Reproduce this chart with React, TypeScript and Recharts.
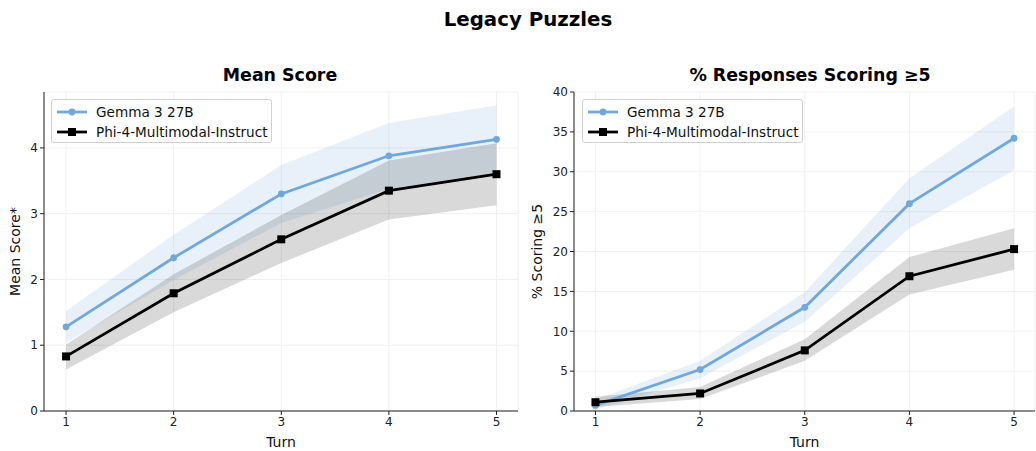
import React from "react";
import { ComposedChart, Line, Area, XAxis, YAxis, CartesianGrid } from "recharts";

const turns = [1, 2, 3, 4, 5];

// Mean score panel
const gemmaMean = [1.28, 2.33, 3.30, 3.88, 4.13];
const gemmaMeanLow = [1.04, 1.99, 2.86, 3.38, 3.62];
const gemmaMeanHigh = [1.52, 2.68, 3.74, 4.38, 4.65];
const phiMean = [0.83, 1.79, 2.61, 3.35, 3.60];
const phiMeanLow = [0.63, 1.50, 2.25, 2.91, 3.13];
const phiMeanHigh = [1.01, 2.08, 2.98, 3.81, 4.07];

// % scoring >= 5 panel
const gemmaPct = [0.7, 5.2, 13.0, 26.0, 34.2];
const gemmaPctLow = [0.2, 4.1, 11.2, 22.9, 30.2];
const gemmaPctHigh = [1.4, 6.3, 14.9, 29.2, 38.2];
const phiPct = [1.1, 2.2, 7.6, 16.9, 20.3];
const phiPctLow = [0.5, 1.5, 6.3, 14.6, 17.7];
const phiPctHigh = [1.8, 3.0, 9.0, 19.3, 22.9];

const meanTicks = [0, 1, 2, 3, 4];
const pctTicks = [0, 5, 10, 15, 20, 25, 30, 35, 40];

const seriesNames = ["Gemma 3 27B", "Phi-4-Multimodal-Instruct"];

const BLUE = "#6fa8dc";
const FONT = "DejaVu Sans, sans-serif";

const meanData = turns.map((t, i) => ({
  turn: t,
  g: gemmaMean[i],
  gBand: [gemmaMeanLow[i], gemmaMeanHigh[i]],
  p: phiMean[i],
  pBand: [phiMeanLow[i], phiMeanHigh[i]],
}));

const pctData = turns.map((t, i) => ({
  turn: t,
  g: gemmaPct[i],
  gBand: [gemmaPctLow[i], gemmaPctHigh[i]],
  p: phiPct[i],
  pBand: [phiPctLow[i], phiPctHigh[i]],
}));

const SquareDot = (props: any) => {
  const { cx, cy, index } = props;
  if (cx == null || cy == null) return <g key={index} />;
  return <rect key={index} x={cx - 4} y={cy - 4} width={8} height={8} fill="#000" />;
};

const LegendBox = ({ left }: { left: number }) => (
  <div
    style={{
      position: "absolute",
      left,
      top: 99,
      width: 221,
      height: 44,
      boxSizing: "border-box",
      background: "rgba(255,255,255,0.85)",
      border: "1px solid #d0d0d0",
      borderRadius: 3,
      padding: "2px 0 0 5px",
      fontFamily: FONT,
      fontSize: 13.6,
      color: "#111",
      lineHeight: "20px",
      whiteSpace: "nowrap",
    }}
  >
    <div style={{ display: "flex", alignItems: "center" }}>
      <svg width={30} height={10} style={{ marginRight: 9 }}>
        <line x1={0} y1={5} x2={30} y2={5} stroke={BLUE} strokeWidth={2.8} />
        <circle cx={15} cy={5} r={3.4} fill={BLUE} />
      </svg>
      {seriesNames[0]}
    </div>
    <div style={{ display: "flex", alignItems: "center" }}>
      <svg width={30} height={10} style={{ marginRight: 9 }}>
        <line x1={0} y1={5} x2={30} y2={5} stroke="#000" strokeWidth={2.8} />
        <rect x={11} y={1} width={8} height={8} fill="#000" />
      </svg>
      {seriesNames[1]}
    </div>
  </div>
);

const Panel = ({ data, yDomain, yTicks, yLabel, yAxisWidth, width, yLabelOffset }: any) => (
  <ComposedChart
    width={width}
    height={451}
    data={data}
    margin={{ top: 92, right: 2, bottom: 0, left: 0 }}
    style={{ fontFamily: FONT }}
  >
    <CartesianGrid stroke="#f0f0f0" strokeWidth={1} />
    <XAxis
      dataKey="turn"
      type="number"
      domain={[0.795, 5.2]}
      ticks={turns}
      height={40}
      tickSize={4}
      tick={{ fill: "#222", fontSize: 12 }}
      tickLine={{ stroke: "#222" }}
      axisLine={{ stroke: "#222" }}
      label={{ value: "Turn", position: "insideBottom", offset: 4, fill: "#111", fontSize: 14 }}
    />
    <YAxis
      type="number"
      domain={yDomain}
      ticks={yTicks}
      width={yAxisWidth}
      tickSize={4}
      allowDataOverflow
      tick={{ fill: "#222", fontSize: 12 }}
      tickLine={{ stroke: "#222" }}
      axisLine={{ stroke: "#222" }}
      label={{
        value: yLabel,
        angle: -90,
        position: "insideLeft",
        offset: yLabelOffset,
        style: { textAnchor: "middle" },
        fill: "#111",
        fontSize: 14,
      }}
    />
    <Area
      dataKey="gBand"
      type="linear"
      stroke="none"
      fill={BLUE}
      fillOpacity={0.16}
      isAnimationActive={false}
      activeDot={false}
    />
    <Line
      dataKey="g"
      type="linear"
      stroke={BLUE}
      strokeWidth={2.8}
      dot={{ r: 3.4, fill: BLUE, stroke: BLUE, strokeWidth: 0 }}
      isAnimationActive={false}
    />
    <Area
      dataKey="pBand"
      type="linear"
      stroke="none"
      fill="#000"
      fillOpacity={0.15}
      isAnimationActive={false}
      activeDot={false}
    />
    <Line
      dataKey="p"
      type="linear"
      stroke="#000"
      strokeWidth={2.8}
      dot={SquareDot}
      isAnimationActive={false}
    />
  </ComposedChart>
);

export default function App() {
  return (
    <div
      style={{
        position: "absolute",
        left: 0,
        top: 0,
        width: 1036,
        height: 451,
        background: "#fff",
        fontFamily: FONT,
      }}
    >
      <div style={{ position: "absolute", left: 0, top: 0 }}>
        <Panel
          data={meanData}
          yDomain={[0, 4.85]}
          yTicks={meanTicks}
          yLabel="Mean Score*"
          yAxisWidth={44}
          width={520}
          yLabelOffset={15}
        />
      </div>
      <div style={{ position: "absolute", left: 520, top: 0 }}>
        <Panel
          data={pctData}
          yDomain={[0, 40]}
          yTicks={pctTicks}
          yLabel="% Scoring ≥5"
          yAxisWidth={54}
          width={517}
          yLabelOffset={17}
        />
      </div>
      <LegendBox left={51} />
      <LegendBox left={582} />
      <div
        style={{
          position: "absolute",
          top: 7,
          left: 0,
          width: 1056,
          textAlign: "center",
          fontWeight: "bold",
          fontSize: 19.8,
          lineHeight: "26px",
          color: "#000",
        }}
      >
        Legacy Puzzles
      </div>
      <div
        style={{
          position: "absolute",
          top: 64,
          left: 44,
          width: 472,
          textAlign: "center",
          fontWeight: "bold",
          fontSize: 17.4,
          lineHeight: "22px",
          color: "#000",
        }}
      >
        Mean Score
      </div>
      <div
        style={{
          position: "absolute",
          top: 64,
          left: 574,
          width: 472,
          textAlign: "center",
          fontWeight: "bold",
          fontSize: 17.4,
          lineHeight: "22px",
          color: "#000",
        }}
      >
        % Responses Scoring ≥5
      </div>
    </div>
  );
}
